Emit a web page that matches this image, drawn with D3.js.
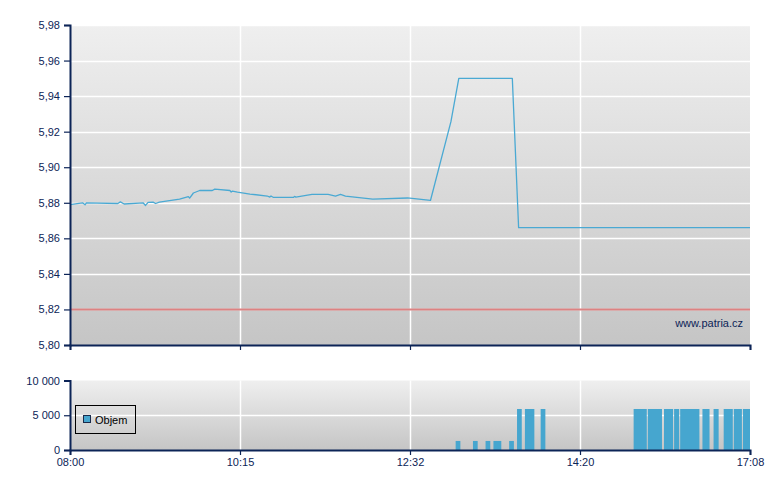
<!DOCTYPE html>
<html>
<head>
<meta charset="utf-8">
<script src="https://cdn.jsdelivr.net/npm/d3@7"></script>
<style>
  html, body { margin: 0; padding: 0; background: #ffffff; }
  svg { display: block; font-family: "Liberation Sans", Arial, sans-serif; }
</style>
</head>
<body>
<svg id="chart" width="780" height="490"></svg>
<script>
// ---------- DATA ----------
const axisTimeLabels = ["08:00", "10:15", "12:32", "14:20", "17:08"];
const priceTicks = [5.80, 5.82, 5.84, 5.86, 5.88, 5.90, 5.92, 5.94, 5.96, 5.98];
const volumeTicks = [0, 5000, 10000];
const referencePrice = 5.82;

const priceTimes = ["08:00","08:10","08:12","08:13","08:38","08:40","08:43","08:58","09:00","09:02",
  "09:06","09:08","09:11","09:27","09:34","09:35","09:38","09:43","09:53","09:55",
  "10:07","10:08","10:09","10:13","10:23","10:37","10:39","10:40","10:42","10:58",
  "10:59","11:00","11:13","11:26","11:32","11:36","11:40","12:02","12:30","12:45",
  "12:58","13:03","13:37","13:41","17:08"];
const priceValues = [5.879,5.880,5.8789,5.880,5.8796,5.8805,5.8793,5.880,5.8785,5.8802,
  5.8804,5.8796,5.8804,5.8821,5.8835,5.8826,5.8855,5.8869,5.8869,5.8877,
  5.8869,5.886,5.8866,5.886,5.8849,5.8838,5.8832,5.8838,5.883,5.883,
  5.8836,5.8832,5.8847,5.8847,5.8838,5.8847,5.8838,5.8821,5.8827,5.8813,
  5.9256,5.95,5.95,5.866,5.866];

const volStart = ["13:01","13:12","13:20","13:25","13:35","13:40","13:45","13:55",
  "15:13","15:27","15:43","15:53","15:59","16:21","16:32","16:42","16:52","17:01"];
const volEnd = ["13:04","13:15","13:23","13:30","13:38","13:43","13:51","13:58",
  "15:26","15:41","15:52","15:58","16:18","16:28","16:37","16:51","17:00","17:08"];
const volValues = [1300,1300,1300,1300,1300,5900,5900,5900,
  5900,5900,5900,5900,5900,5900,5900,5900,5900,5900];

const legendLabel = "Objem";
const sourceLabel = "www.patria.cz";

// ---------- SETUP ----------
const parseT = d3.timeParse("%H:%M");
const svg = d3.select("#chart");
const left = 70, right = 750;
const top1 = 25, bot1 = 345;
const top2 = 380.5, bot2 = 450;

const navy = "#0c2457";
const lineColor = "#4aa9d3";
const barColor = "#46a6cf";

const x = d3.scaleTime()
  .domain(axisTimeLabels.map(parseT))
  .range(d3.range(axisTimeLabels.length).map(i => left + i * (right - left) / (axisTimeLabels.length - 1)));

const yP = d3.scaleLinear().domain([5.80, 5.98]).range([bot1, top1]);
const yV = d3.scaleLinear().domain([0, 10000]).range([bot2, top2]);

// gradients
const defs = svg.append("defs");
function grad(id) {
  const g = defs.append("linearGradient").attr("id", id).attr("x1", 0).attr("y1", 0).attr("x2", 0).attr("y2", 1);
  g.append("stop").attr("offset", "0%").attr("stop-color", "#efefef");
  g.append("stop").attr("offset", "100%").attr("stop-color", "#c5c5c5");
}
grad("g1"); grad("g2");

// ---------- PRICE PANEL ----------
const p1 = svg.append("g");
p1.append("rect").attr("x", left).attr("y", top1).attr("width", right - left).attr("height", bot1 - top1).attr("fill", "url(#g1)");

p1.append("g").selectAll("line").data(priceTicks.slice(1)).join("line")
  .attr("x1", left).attr("x2", right)
  .attr("y1", d => Math.round(yP(d)) + 0.5).attr("y2", d => Math.round(yP(d)) + 0.5)
  .attr("stroke", "#ffffff").attr("stroke-width", 1.5);
p1.append("g").selectAll("line").data(axisTimeLabels.slice(1, -1)).join("line")
  .attr("x1", d => Math.round(x(parseT(d))) + 0.5).attr("x2", d => Math.round(x(parseT(d))) + 0.5)
  .attr("y1", top1).attr("y2", bot1)
  .attr("stroke", "#ffffff").attr("stroke-width", 1.5);

// reference line
p1.append("line").attr("x1", left).attr("x2", right)
  .attr("y1", yP(referencePrice)).attr("y2", yP(referencePrice))
  .attr("stroke", "#dc8282").attr("stroke-width", 2);

// price line
const priceData = priceTimes.map((t, i) => ({ t: parseT(t), v: priceValues[i] }));
p1.append("path").datum(priceData)
  .attr("fill", "none").attr("stroke", lineColor).attr("stroke-width", 1.3)
  .attr("stroke-linejoin", "round")
  .attr("d", d3.line().x(d => x(d.t)).y(d => yP(d.v)));

p1.append("text").attr("x", right - 7).attr("y", 327).attr("text-anchor", "end")
  .attr("font-size", 11).attr("fill", navy).text(sourceLabel);

const yAxis1 = d3.axisLeft(yP).tickValues(priceTicks).tickSize(6).tickPadding(4)
  .tickFormat(d => d3.format(".2f")(d).replace(".", ","));
const ga1 = svg.append("g").attr("transform", `translate(${left},0)`).call(yAxis1);
const xAxis1 = d3.axisBottom(x).tickValues(axisTimeLabels.map(parseT)).tickSize(5).tickFormat("");
const gx1 = svg.append("g").attr("transform", `translate(0,${bot1})`).call(xAxis1);

// ---------- VOLUME PANEL ----------
const p2 = svg.append("g");
p2.append("rect").attr("x", left).attr("y", top2).attr("width", right - left).attr("height", bot2 - top2).attr("fill", "url(#g2)");
p2.append("line").attr("x1", left).attr("x2", right).attr("y1", Math.round(yV(5000)) + 0.5).attr("y2", Math.round(yV(5000)) + 0.5)
  .attr("stroke", "#ffffff").attr("stroke-width", 1.5);
p2.append("g").selectAll("line").data(axisTimeLabels.slice(1, -1)).join("line")
  .attr("x1", d => Math.round(x(parseT(d))) + 0.5).attr("x2", d => Math.round(x(parseT(d))) + 0.5)
  .attr("y1", top2).attr("y2", bot2)
  .attr("stroke", "#ffffff").attr("stroke-width", 1.5);

const volData = volStart.map((s, i) => ({ s: parseT(s), e: parseT(volEnd[i]), v: volValues[i] }));
p2.append("g").selectAll("rect").data(volData).join("rect")
  .attr("x", d => x(d.s)).attr("width", d => Math.max(1, x(d.e) - x(d.s)))
  .attr("y", d => yV(d.v)).attr("height", d => yV(0) - yV(d.v))
  .attr("fill", barColor);

// legend
const lg = svg.append("g");
lg.append("rect").attr("x", 75.5).attr("y", 405.5).attr("width", 60).attr("height", 28)
  .attr("fill", "none").attr("stroke", "#000000").attr("stroke-width", 1);
lg.append("rect").attr("x", 83.5).attr("y", 415.5).attr("width", 7).attr("height", 7)
  .attr("fill", barColor).attr("stroke", "#1a2a4a").attr("stroke-width", 1);
lg.append("text").attr("x", 95).attr("y", 424).attr("font-size", 11).attr("fill", "#000000").text(legendLabel);

const yAxis2 = d3.axisLeft(yV).tickValues(volumeTicks).tickSize(6).tickPadding(4)
  .tickFormat(d => d3.format(",")(d).replace(/,/g, " "));
const ga2 = svg.append("g").attr("transform", `translate(${left},0)`).call(yAxis2);
const xAxis2 = d3.axisBottom(x).tickValues(axisTimeLabels.map(parseT)).tickSize(5).tickPadding(3)
  .tickFormat(d3.timeFormat("%H:%M"));
const gx2 = svg.append("g").attr("transform", `translate(0,${bot2})`).call(xAxis2);

[ga1, gx1, ga2, gx2].forEach(g => {
  g.select(".domain").attr("stroke", navy).attr("stroke-width", 2);
  g.selectAll(".tick line").attr("stroke", navy).attr("stroke-width", 1.2);
  g.selectAll("text").attr("fill", navy).attr("font-size", 11)
    .attr("font-family", "'Liberation Sans', Arial, sans-serif");
});
</script>
</body>
</html>
